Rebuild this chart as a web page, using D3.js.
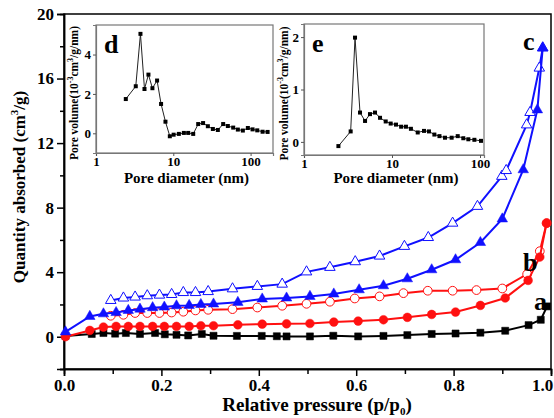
<!DOCTYPE html>
<html><head><meta charset="utf-8">
<script src="https://cdn.jsdelivr.net/npm/d3@7"></script>
<style>body{margin:0;background:#fff}svg{display:block}text{font-family:"Liberation Serif","Times New Roman",serif;font-weight:bold}</style>
</head><body><svg id="c" width="554" height="418"></svg>
<script>
// ---------- Data ----------
const xTicksMain = [0, 0.2, 0.4, 0.6, 0.8, 1.0];
const yTicksMain = [0, 4, 8, 12, 16, 20];
const aP = [0.003,0.057,0.081,0.105,0.127,0.156,0.187,0.207,0.231,0.255,0.283,0.307,0.355,0.406,0.437,0.457,0.505,0.553,0.604,0.656,0.705,0.755,0.804,0.855,0.906,0.954,0.979,0.992];
const aV = [0.05,0.17,0.23,0.19,0.23,0.17,0.23,0.15,0.12,0.08,0.17,0.06,0.05,0.05,0.03,0.02,0.02,0.06,0.02,0.05,0.1,0.17,0.2,0.25,0.37,0.72,1.05,1.88];
const bAdsP = [0.003,0.053,0.081,0.107,0.132,0.156,0.182,0.206,0.231,0.257,0.281,0.307,0.357,0.407,0.457,0.505,0.554,0.604,0.656,0.705,0.755,0.804,0.855,0.906,0.953,0.977,0.991];
const bAdsV = [0,0.39,0.6,0.64,0.64,0.64,0.64,0.64,0.64,0.64,0.68,0.68,0.74,0.78,0.8,0.82,0.91,0.97,1.05,1.2,1.38,1.53,1.94,2.4,3.49,4.94,7.04];
const bDesP = [0.096,0.122,0.146,0.171,0.196,0.221,0.245,0.27,0.296,0.346,0.397,0.448,0.498,0.546,0.597,0.648,0.697,0.747,0.798,0.847,0.9,0.951,0.977,0.991];
const bDesV = [1.3,1.36,1.47,1.47,1.47,1.5,1.55,1.63,1.67,1.71,1.81,1.92,2.04,2.17,2.37,2.5,2.7,2.85,2.85,2.89,2.99,3.88,5.3,7.04];
const cAdsP = [0.003,0.053,0.081,0.107,0.132,0.156,0.182,0.206,0.231,0.257,0.281,0.307,0.357,0.407,0.457,0.505,0.554,0.606,0.656,0.705,0.755,0.804,0.855,0.9,0.943,0.972,0.983];
const cAdsV = [0.3,1.26,1.42,1.5,1.63,1.71,1.8,1.84,1.92,1.94,2.0,2.03,2.13,2.34,2.4,2.5,2.65,2.91,3.16,3.59,4.15,4.77,5.84,7.3,10.35,14.06,17.9];
const cDesP = [0.096,0.122,0.146,0.171,0.196,0.221,0.245,0.27,0.296,0.346,0.397,0.448,0.498,0.546,0.598,0.648,0.699,0.748,0.798,0.849,0.899,0.908,0.95,0.957,0.976,0.983];
const cDesV = [2.25,2.4,2.46,2.54,2.58,2.62,2.74,2.74,2.8,2.97,3.12,3.26,4.02,4.3,4.65,5.0,5.6,6.15,7.04,8.08,9.94,10.3,13.13,13.9,16.65,17.9];

const dD = [2.43,3.27,3.76,4.24,4.77,5.37,6.17,6.95,7.92,9.02,10.1,11.8,13.7,15.6,18.1,21.0,24.3,28.0,32.5,37.7,44.2,50.8,59.6,68.4,79.4,92.2,106,122,143,166];
const dV = [1.74,2.39,5.05,2.25,2.98,2.29,2.68,1.49,0.59,-0.15,-0.07,-0.03,0.02,0.02,-0.03,0.47,0.52,0.36,0.22,0.17,0.47,0.37,0.29,0.19,0.14,0.27,0.2,0.15,0.08,0.07];
const eD = [2.46,3.39,3.8,4.33,4.94,5.62,6.41,7.31,8.48,9.66,11.1,12.7,14.4,16.4,19.6,23.1,26.3,30.3,34.6,40,47.6,55.8,64.6,73.7,86.3,102.6];
const eV = [-0.08,0.2,1.99,0.56,0.4,0.53,0.56,0.46,0.39,0.35,0.33,0.29,0.29,0.25,0.18,0.21,0.2,0.14,0.11,0.08,0.08,0.11,0.07,0.05,0.04,0.02];
const insetXTicks = [1, 10, 100];
const dYTicks = [0, 2, 4];
const eYTicks = [0, 1, 2];

// ---------- Drawing ----------
const svg = d3.select("#c");
const BLUE = "#1010ff", RED = "#ff1010";
const x = d3.scaleLinear().domain([0, 1]).range([64, 551]);
const y = d3.scaleLinear().domain([-2, 20]).range([369, 14]);

svg.append("rect").attr("x", 64).attr("y", 14).attr("width", 551 - 64).attr("height", 369 - 14)
  .attr("fill", "none").attr("stroke", "#000").attr("stroke-width", 1.5);

function styleAxis(g, fs) {
  g.select(".domain").attr("stroke", "#000").attr("stroke-width", 1.5);
  g.selectAll(".tick line").attr("stroke", "#000").attr("stroke-width", 1.5);
  g.selectAll(".tick text").attr("font-size", fs).attr("fill", "#000")
    .attr("font-family", "Liberation Serif").attr("font-weight", "bold");
}
svg.append("g").attr("transform", "translate(0,369)")
  .call(d3.axisBottom(x).tickValues(d3.range(0.1, 1, 0.2)).tickSize(5).tickFormat(""))
  .call(g => styleAxis(g, 0));
svg.append("g").attr("transform", "translate(64,0)")
  .call(d3.axisLeft(y).tickValues(d3.range(-2, 20, 4)).tickSize(4).tickFormat(""))
  .call(g => styleAxis(g, 0));
svg.append("g").attr("transform", "translate(0,369)")
  .call(d3.axisBottom(x).tickValues(xTicksMain).tickSize(7).tickPadding(3).tickFormat(d3.format(".1f")))
  .call(g => styleAxis(g, 17))
  .call(g => g.selectAll(".tick text").filter(d => d === 1).attr("dx", -9));
svg.append("g").attr("transform", "translate(64,0)")
  .call(d3.axisLeft(y).tickValues(yTicksMain).tickSize(7).tickPadding(3).tickFormat(d3.format("d")))
  .call(g => styleAxis(g, 17));

const xt = svg.append("text").attr("x", 317).attr("y", 411).attr("text-anchor", "middle").attr("font-size", 19);
xt.append("tspan").text("Relative pressure (p/p");
xt.append("tspan").attr("font-size", 11).attr("dy", 4).text("0");
xt.append("tspan").attr("dy", -4).text(")");
const yt = svg.append("text").attr("transform", "translate(25,187) rotate(-90)").attr("text-anchor", "middle").attr("font-size", 17);
yt.append("tspan").text("Quantity absorbed (cm");
yt.append("tspan").attr("font-size", 11).attr("dy", -7).text("3");
yt.append("tspan").attr("dy", 7).text("/g)");

function series(P, V, color, shape, open, size) {
  const pts = P.map((p, i) => [p, V[i]]);
  svg.append("path").datum(pts)
    .attr("d", d3.line().x(d => x(d[0])).y(d => y(d[1])))
    .attr("fill", "none").attr("stroke", color).attr("stroke-width", 2);
  svg.append("g").selectAll("path").data(pts).join("path")
    .attr("transform", d => `translate(${x(d[0])},${y(d[1])})`)
    .attr("d", d3.symbol().type(shape).size(size))
    .attr("fill", open ? "#fff" : color)
    .attr("stroke", color).attr("stroke-width", open ? 1 : 0.5);
}
series(aP, aV, "#000", d3.symbolSquare, false, 50);
series(bDesP, bDesV, RED, d3.symbolCircle, true, 60);
series(bAdsP, bAdsV, RED, d3.symbolCircle, false, 60);
series(cDesP, cDesV, BLUE, d3.symbolTriangle, true, 48);
series(cAdsP, cAdsV, BLUE, d3.symbolTriangle, false, 48);

svg.append("text").attr("x", 534).attr("y", 310).attr("font-size", 26).text("a");
svg.append("text").attr("x", 523).attr("y", 271).attr("font-size", 26).text("b");
svg.append("text").attr("x", 523).attr("y", 50).attr("font-size", 26).text("c");

function inset(o) {
  const ix = d3.scaleLog().domain(o.xd).range([o.x0, o.x1]);
  const iy = d3.scaleLinear().domain(o.yd).range([o.y1, o.y0]);
  const g = svg.append("g");
  g.append("rect").attr("x", o.x0).attr("y", o.y0).attr("width", o.x1 - o.x0).attr("height", o.y1 - o.y0)
    .attr("fill", "#fff").attr("stroke", "#777").attr("stroke-width", 1.2);
  const ax = g.append("g").attr("transform", `translate(0,${o.y1})`)
    .call(d3.axisBottom(ix).tickValues(insetXTicks).tickSize(3).tickPadding(1).tickFormat(d3.format("d")));
  const ay = g.append("g").attr("transform", `translate(${o.x0},0)`)
    .call(d3.axisLeft(iy).tickValues(o.yt).tickSize(3).tickPadding(2).tickFormat(d3.format("d")));
  [ax, ay].forEach(a => {
    a.select(".domain").attr("stroke", "#777").attr("stroke-width", 1.2);
    a.selectAll(".tick line").attr("stroke", "#555");
    a.selectAll(".tick text").attr("font-size", 13).attr("fill", "#000")
      .attr("font-family", "Liberation Serif").attr("font-weight", "bold");
  });
  const pts = o.xs.map((v, i) => [v, o.ys[i]]);
  g.append("path").datum(pts).attr("d", d3.line().x(d => ix(d[0])).y(d => iy(d[1])))
    .attr("fill", "none").attr("stroke", "#222").attr("stroke-width", 1);
  g.selectAll("rect.pt").data(pts).join("rect").attr("class", "pt")
    .attr("x", d => ix(d[0]) - 2).attr("y", d => iy(d[1]) - 2).attr("width", 4).attr("height", 4).attr("fill", "#000");
  g.append("text").attr("x", o.x0 + 8).attr("y", o.y0 + 28).attr("font-size", 26).text(o.letter);
  g.append("text").attr("x", (o.x0 + o.x1) / 2 + 2).attr("y", 183).attr("text-anchor", "middle")
    .attr("font-size", 15).text("Pore diameter (nm)");
  const lt = g.append("text").attr("transform", `translate(${o.lx},${(o.y0 + o.y1) / 2 + 4}) rotate(-90)`)
    .attr("text-anchor", "middle").attr("font-size", 11.5);
  lt.append("tspan").text("Pore volume(10");
  lt.append("tspan").attr("font-size", 8).attr("dy", -5).text("-3");
  lt.append("tspan").attr("dy", 5).text("cm");
  lt.append("tspan").attr("font-size", 8).attr("dy", -5).text("3");
  lt.append("tspan").attr("dy", 5).text("/g/nm)");
}
inset({x0: 96, x1: 273, y0: 25, y1: 153, xd: [1, 195], yd: [-1, 5.5], yt: dYTicks, xs: dD, ys: dV, letter: "d", lx: 78});
inset({x0: 304, x1: 484, y0: 24, y1: 155, xd: [1, 111], yd: [-0.25, 2.25], yt: eYTicks, xs: eD, ys: eV, letter: "e", lx: 288});
</script></body></html>
